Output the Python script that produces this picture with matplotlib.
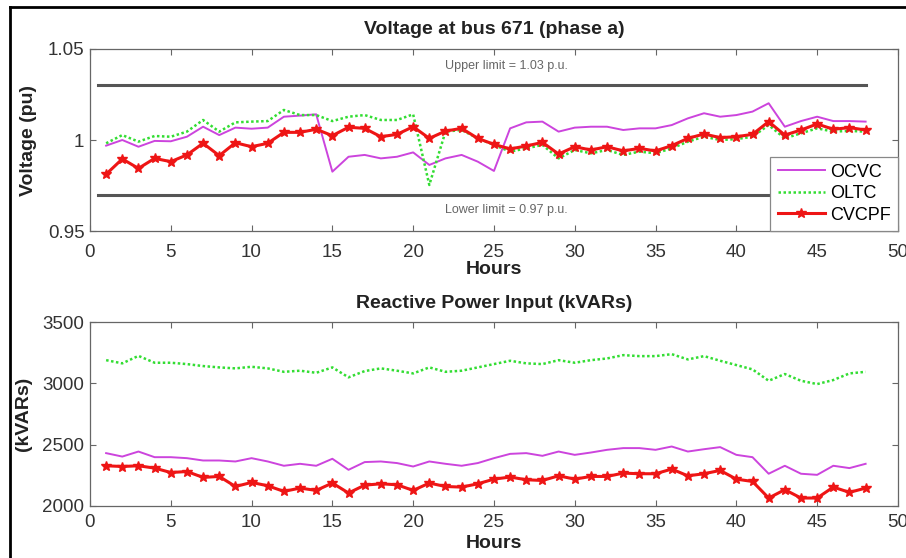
import matplotlib
matplotlib.use("Agg")
import matplotlib.pyplot as plt
from matplotlib.lines import Line2D

plt.rcParams['font.family'] = ['Liberation Sans', 'DejaVu Sans']

hours = list(range(1, 49))
upper_limit = 1.03
lower_limit = 0.97
limit_span = [0.5, 48]

v_ocvc = [0.9969, 1.0000, 0.9963, 0.9995, 0.9993, 1.0018, 1.0073, 1.0027, 1.0068, 1.0062,
          1.0068, 1.0128, 1.0134, 1.0141, 0.9826, 0.9908, 0.9918, 0.9899, 0.9908, 0.9932,
          0.9863, 0.9899, 0.9918, 0.9881, 0.9830, 1.0064, 1.0097, 1.0101, 1.0046, 1.0068,
          1.0073, 1.0073, 1.0055, 1.0064, 1.0064, 1.0082, 1.0119, 1.0147, 1.0128, 1.0137,
          1.0156, 1.0202, 1.0073, 1.0104, 1.0128, 1.0104, 1.0104, 1.0101]
v_oltc = [0.9982, 1.0027, 0.9991, 1.0022, 1.0018, 1.0046, 1.0110, 1.0046, 1.0097, 1.0101,
          1.0104, 1.0165, 1.0137, 1.0137, 1.0104, 1.0128, 1.0137, 1.0110, 1.0110, 1.0141,
          0.9753, 1.0046, 1.0055, 1.0009, 0.9973, 0.9936, 0.9954, 0.9973, 0.9899, 0.9945,
          0.9927, 0.9945, 0.9918, 0.9936, 0.9927, 0.9954, 0.9991, 1.0018, 1.0000, 1.0005,
          1.0018, 1.0082, 1.0009, 1.0037, 1.0064, 1.0046, 1.0050, 1.0046]
v_cvcpf = [0.9812, 0.9896, 0.9844, 0.9899, 0.9881, 0.9918, 0.9982, 0.9914, 0.9985, 0.9963,
           0.9982, 1.0042, 1.0042, 1.0059, 1.0024, 1.0070, 1.0064, 1.0018, 1.0031, 1.0073,
           1.0009, 1.0049, 1.0064, 1.0009, 0.9976, 0.9951, 0.9967, 0.9987, 0.9923, 0.9963,
           0.9945, 0.9963, 0.9940, 0.9954, 0.9940, 0.9969, 1.0009, 1.0033, 1.0013, 1.0018,
           1.0031, 1.0101, 1.0027, 1.0055, 1.0088, 1.0059, 1.0068, 1.0055]

q_ocvc = [2431, 2403, 2444, 2398, 2398, 2390, 2371, 2371, 2363, 2390,
          2363, 2328, 2344, 2328, 2385, 2295, 2358, 2363, 2350, 2322,
          2363, 2344, 2328, 2350, 2390, 2425, 2431, 2409, 2444, 2417,
          2436, 2458, 2472, 2472, 2458, 2485, 2444, 2463, 2480, 2417,
          2398, 2263, 2328, 2263, 2254, 2328, 2309, 2344]
q_oltc = [3189, 3163, 3224, 3168, 3168, 3157, 3141, 3130, 3122, 3135,
          3122, 3094, 3103, 3086, 3130, 3049, 3100, 3122, 3103, 3081,
          3130, 3094, 3103, 3130, 3157, 3184, 3163, 3157, 3189, 3168,
          3189, 3203, 3230, 3222, 3222, 3238, 3195, 3222, 3184, 3149,
          3114, 3021, 3076, 3021, 2994, 3027, 3081, 3094]
q_cvcpf = [2328, 2322, 2328, 2309, 2273, 2281, 2233, 2241, 2159, 2192,
           2165, 2119, 2146, 2127, 2187, 2106, 2170, 2181, 2173, 2127,
           2187, 2159, 2154, 2181, 2219, 2236, 2214, 2208, 2246, 2219,
           2241, 2241, 2268, 2263, 2263, 2301, 2246, 2263, 2290, 2219,
           2200, 2065, 2133, 2065, 2065, 2154, 2111, 2146]

labels = ['OCVC', 'OLTC', 'CVCPF']
x_ticks = [0, 5, 10, 15, 20, 25, 30, 35, 40, 45, 50]
v_ticks = [0.95, 1.0, 1.05]
v_ticklabels = ['0.95', '1', '1.05']
q_ticks = [2000, 2500, 3000, 3500]

C_OCVC = '#cc44dd'
C_OLTC = '#33dd33'
C_CVCPF = '#ee1515'
C_AX = '#666666'

fig = plt.figure(figsize=(9.06, 5.58), dpi=100)
ax1 = fig.add_axes([0.0993, 0.586, 0.8918, 0.3262])
ax2 = fig.add_axes([0.0993, 0.0932, 0.8918, 0.3297])

def style(ax):
    ax.tick_params(direction='in', top=True, right=True, length=4, width=0.8,
                   colors=C_AX, labelcolor='#333333', labelsize=13.5)
    for s in ax.spines.values():
        s.set_color(C_AX)
        s.set_linewidth(0.9)
    ax.set_xlim(0, 50)
    ax.set_xticks(x_ticks)

# Top panel
ax1.plot(limit_span, [upper_limit, upper_limit], color='#555555', lw=2.2)
ax1.plot(limit_span, [lower_limit, lower_limit], color='#555555', lw=2.2)
l1, = ax1.plot(hours, v_ocvc, color=C_OCVC, lw=1.4, label=labels[0])
l2, = ax1.plot(hours, v_oltc, color=C_OLTC, lw=1.8, ls=(0, (1, 1)), label=labels[1])
l3, = ax1.plot(hours, v_cvcpf, color=C_CVCPF, lw=2.2, marker='*', ms=7.5, label=labels[2])
ax1.text(22, 1.0405, 'Upper limit = 1.03 p.u.', fontsize=9, color='#666666', va='center', ha='left')
ax1.text(22, 0.9615, 'Lower limit = 0.97 p.u.', fontsize=9, color='#666666', va='center', ha='left')
style(ax1)
ax1.set_ylim(0.95, 1.05)
ax1.set_yticks(v_ticks)
ax1.set_yticklabels(v_ticklabels)
ax1.tick_params(axis='x', pad=9)
ax1.tick_params(axis='y', pad=4)
ax1.set_title('Voltage at bus 671 (phase a)', fontsize=14, fontweight='bold', pad=11, color='#222222')
ax1.set_xlabel('Hours', fontsize=14, fontweight='bold', labelpad=0, color='#222222')
ax1.set_ylabel('Voltage (pu)', fontsize=14, fontweight='bold', color='#222222')
ax1.yaxis.set_label_coords(-0.066, 0.5)
leg = ax1.legend(handles=[l1, l2, l3], loc='lower right', borderaxespad=0, fontsize=13,
                 handlelength=2.6, labelspacing=0.25, fancybox=False, framealpha=1,
                 edgecolor='#888888', borderpad=0.4, handletextpad=0.3)
leg.get_frame().set_linewidth(0.9)

# Bottom panel
ax2.plot(hours, q_ocvc, color=C_OCVC, lw=1.4)
ax2.plot(hours, q_oltc, color=C_OLTC, lw=1.8, ls=(0, (1, 1)))
ax2.plot(hours, q_cvcpf, color=C_CVCPF, lw=2.2, marker='*', ms=7.5)
style(ax2)
ax2.set_ylim(2000, 3500)
ax2.set_yticks(q_ticks)
ax2.tick_params(axis='x', pad=6)
ax2.tick_params(axis='y', pad=4)
ax2.set_title('Reactive Power Input (kVARs)', fontsize=14, fontweight='bold', pad=10, color='#222222')
ax2.set_xlabel('Hours', fontsize=14, fontweight='bold', labelpad=3, color='#222222')
ax2.set_ylabel('(kVARs)', fontsize=14, fontweight='bold', color='#222222')
ax2.yaxis.set_label_coords(-0.072, 0.5)

# scan border (top and left)
fig.add_artist(Line2D([10 / 906, 1.0], [1 - 7 / 558, 1 - 7 / 558], transform=fig.transFigure,
                      color='black', lw=2))
fig.add_artist(Line2D([10 / 906, 10 / 906], [0, 1 - 7 / 558], transform=fig.transFigure,
                      color='black', lw=2))

fig.savefig('out.png', dpi=100)
